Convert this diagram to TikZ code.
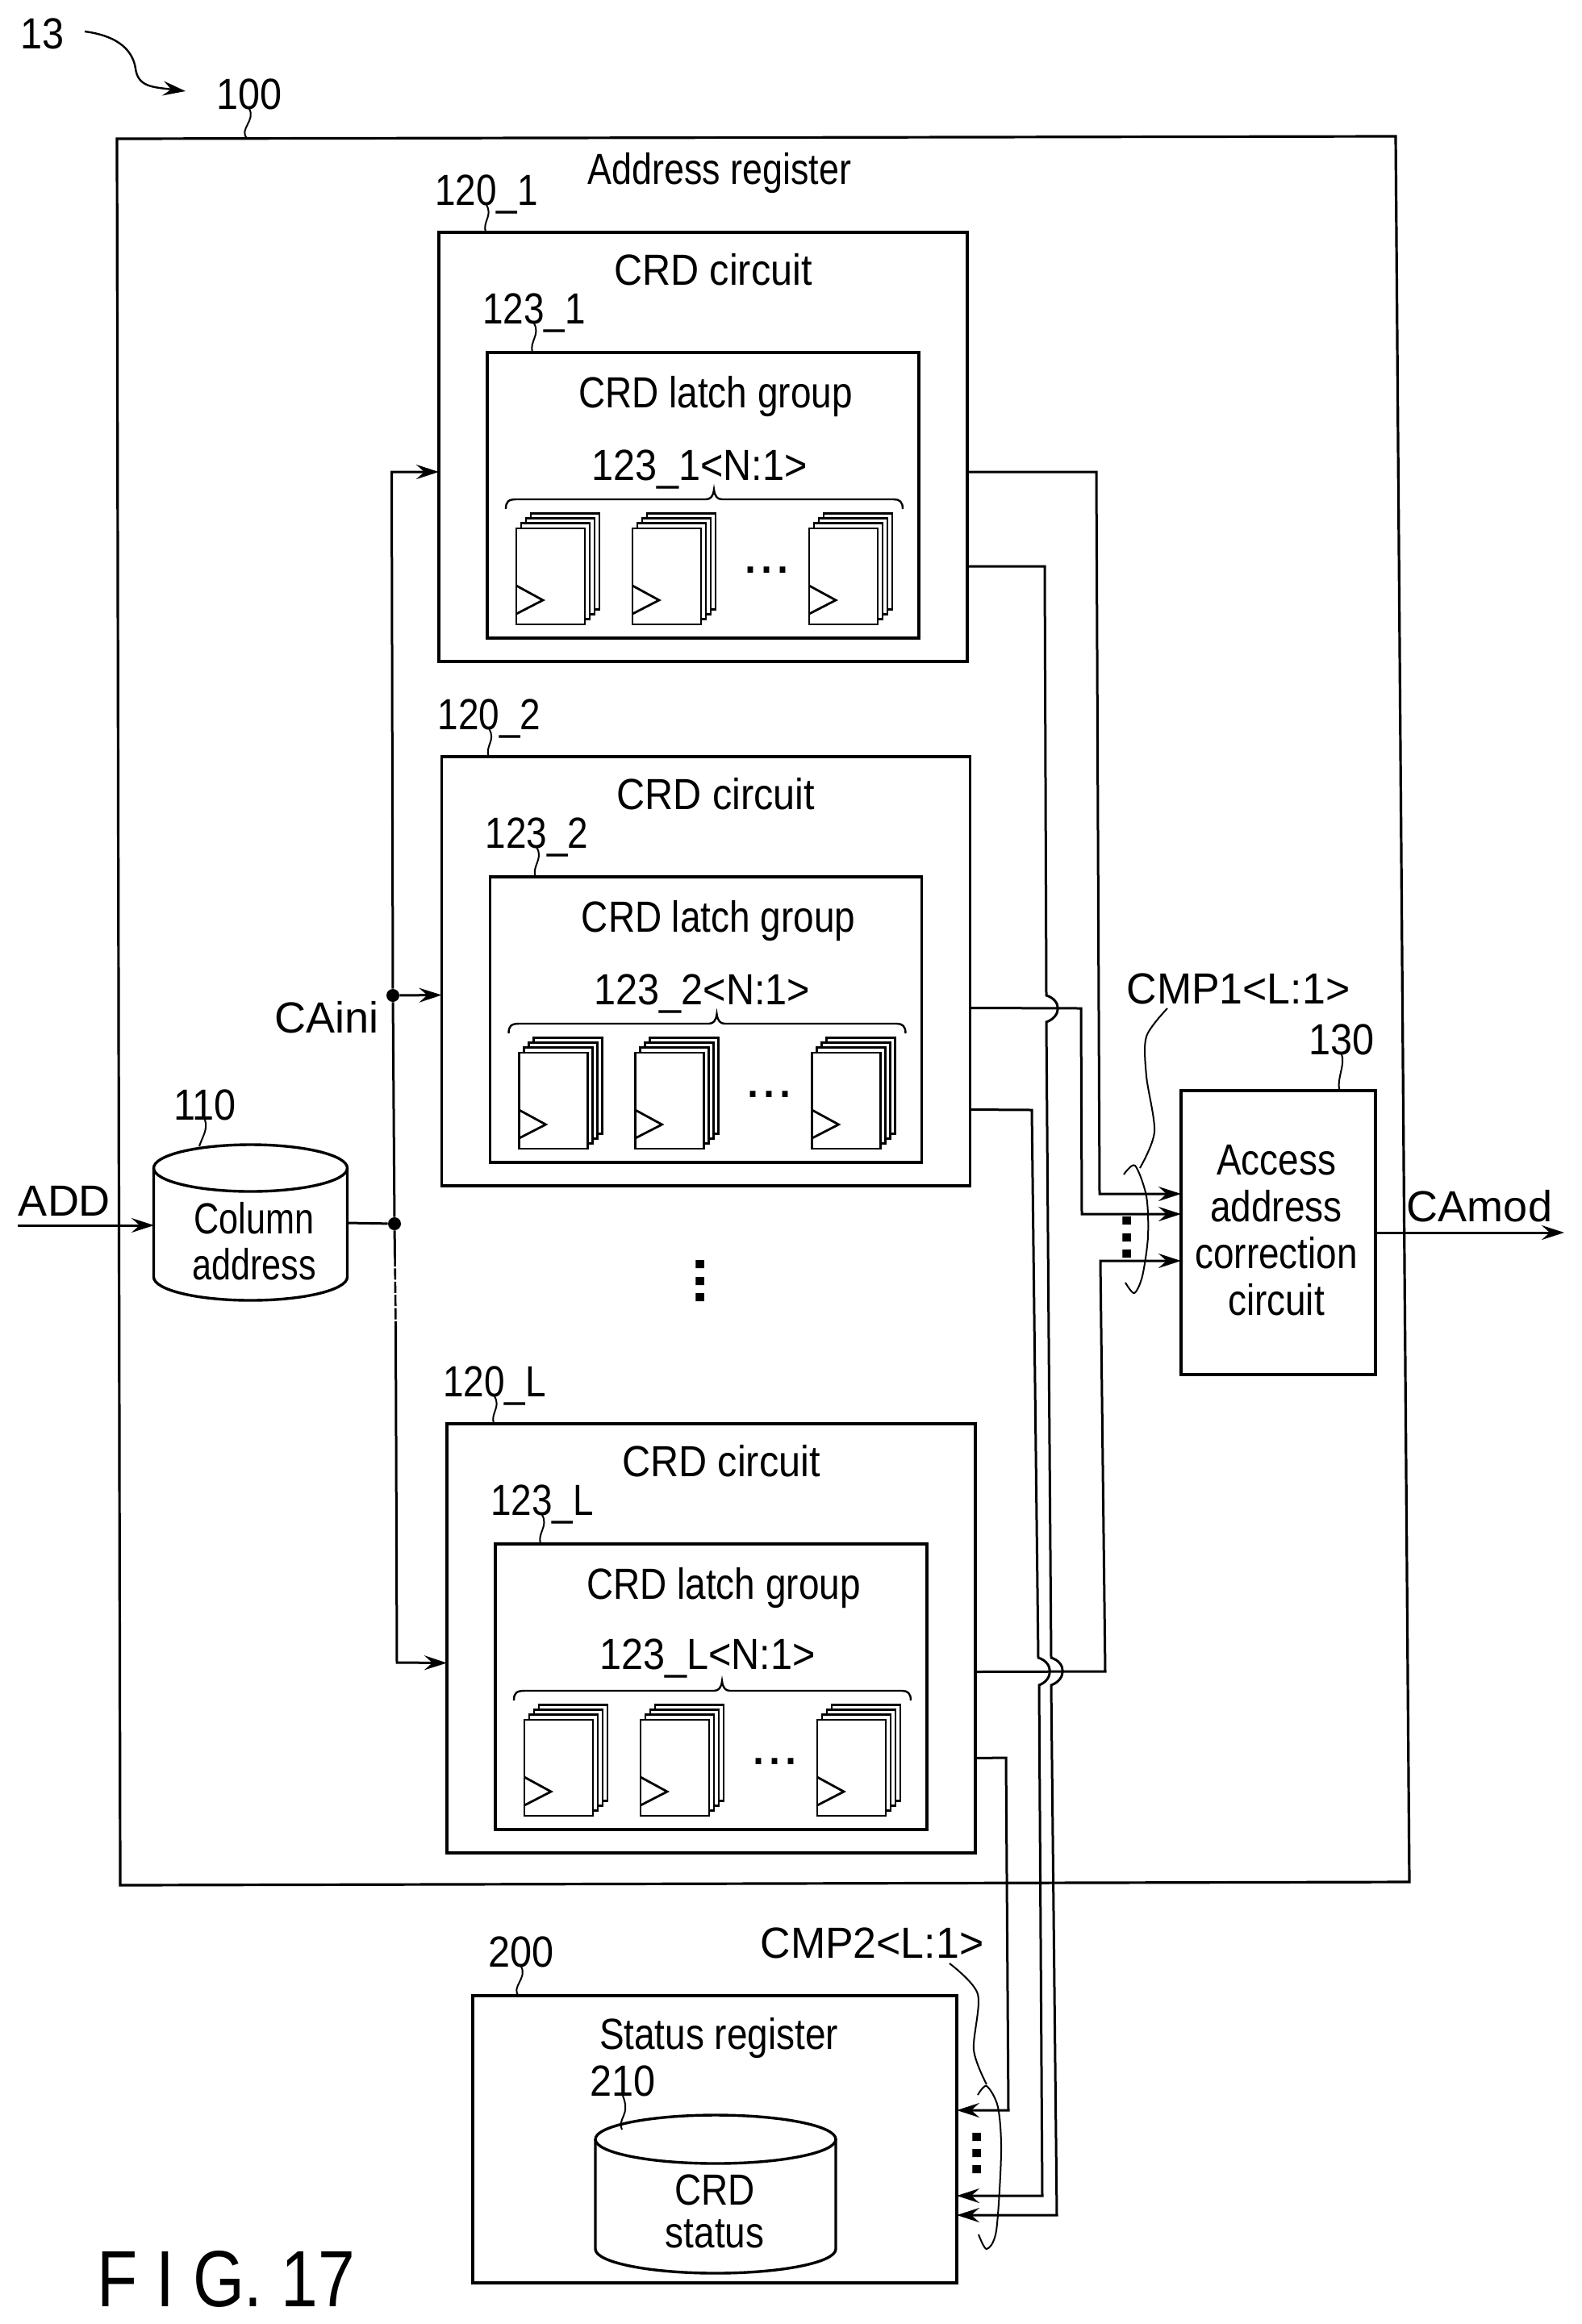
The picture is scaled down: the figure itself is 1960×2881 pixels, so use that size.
\documentclass[tikz,border=0pt]{standalone}
\usepackage{fontspec}
\setmainfont{Liberation Sans}
\newfontfamily\fEighty[FakeStretch=.80]{Liberation Sans}
\newfontfamily\fEightyFive[FakeStretch=.85]{Liberation Sans}
\newfontfamily\fEightyThree[FakeStretch=.83]{Liberation Sans}
\newfontfamily\fNinety[FakeStretch=.90]{Liberation Sans}
\newfontfamily\fNearly[FakeStretch=.96]{Liberation Sans}
\newfontfamily\fFull{Liberation Sans}
\usetikzlibrary{arrows.meta}
\tikzset{
  x=.5pt,y=-.5pt,
  blk/.style={draw,line width=1.7pt,inner sep=0pt,outer sep=0pt},
  ghost/.style={inner sep=0pt,outer sep=0pt},
  lb/.style={inner sep=0pt,anchor=base},
  wE/.style={lb,font=\fEighty\fontsize{27}{29}\selectfont},
  wF/.style={lb,font=\fEightyFive\fontsize{27}{29}\selectfont},
  wT/.style={lb,font=\fEightyThree\fontsize{27}{29}\selectfont},
  wN/.style={lb,font=\fNinety\fontsize{27}{29}\selectfont},
  wM/.style={lb,font=\fNearly\fontsize{27}{29}\selectfont},
  wA/.style={lb,font=\fFull\fontsize{27}{29}\selectfont},
  mlE/.style={inner sep=0pt,anchor=south,align=center},
  dotrow/.style={lb,font=\fFull\bfseries\fontsize{36}{36}\selectfont},
  dotthin/.style={lb,font=\fFull\fontsize{36}{36}\selectfont},
  conn/.style={line width=1.5pt},
  arr/.style={line width=1.5pt,-{Stealth[length=14pt,width=9pt,inset=5pt]}},
  leadr/.style={line width=1pt},
  cyl/.style={line width=1.7pt},
  lay/.style={line width=1.4pt,fill=white},
  jn/.style={circle,fill=black,inner sep=0pt,minimum size=8pt},
}
\newcommand{\boxnode}[5]{%
  \pgfmathsetmacro\bw{(#4-#2)*.5}\pgfmathsetmacro\bh{(#5-#3)*.5}%
  \node[blk,minimum width=\bw pt,minimum height=\bh pt] (#1) at ({(#2+#4)/2},{(#3+#5)/2}) {};}
\newcommand{\latchstack}[1]{%
  \foreach \s in {3,2,1,0}{\draw[lay] ({#1+6*\s},{655-6.3*\s}) rectangle +(85,119);}
  \draw[line width=1.4pt] (#1,726) -- (#1+33,744) -- (#1,761);}
\newcommand{\crdblock}[5]{% id, dx, dy, text suffix, baseline of bus label
  \begin{scope}[shift={(#2,#3)}]
    \boxnode{crd#1}{544}{288}{1199}{820}
    \boxnode{lat#1}{604}{437}{1139}{791}
    \node[wN] (tc#1) at (884,353) {CRD circuit};
    \node[wF] (tg#1) at (887,505) {CRD latch group};
    \node[wF] (la#1) at (603,254) {120\_#4};
    \node[wF] (lb#1) at (662,401) {123\_#4};
    \node[wN] (tn#1) at (867,#5) {123\_#4<N:1>};
    \draw[line width=1.2pt] (627,631) .. controls (627,622) and (630,619) .. (640,619) -- (875,619)
      .. controls (881,619) and (884,615) .. (885,607) .. controls (886,615) and (889,619) .. (895,619)
      -- (1108,619) .. controls (1115,619) and (1119,622) .. (1119,631);
    \latchstack{640}\latchstack{784}\latchstack{1003}
    \node[dotthin] (td#1) at (950,710) {...};
    \draw[leadr] (la#1.base) .. controls +(8,14) and +(-4,-14) .. ([xshift=-134.75pt]crd#1.north);
    \draw[leadr] (lb#1.base) .. controls +(8,14) and +(-4,-14) .. ([xshift=-105.75pt]lat#1.north);
  \end{scope}}
\begin{document}
\begin{tikzpicture}
\path[use as bounding box,fill=white] (0,0) rectangle (1960,2881);

% outer box
\coordinate (oa) at (145,172);\coordinate (ob) at (1730,169);
\coordinate (oc) at (1747,2333);\coordinate (od) at (149,2337);
\draw[line width=1.6pt,line join=miter] (oa) -- (ob) -- (oc) -- (od) -- cycle;
\node[wT] at (892,228) {Address register};

\node[wN] (l13) at (53,60) {13};
\node[wN] (l100) at (309,135) {100};
\coordinate (a13) at (230,113);
\draw[line width=1.2pt,-{Stealth[length=14pt,width=9pt,inset=5pt]}] (105,39) .. controls (150,45) and (165,65) .. (168,85) .. controls (171,108) and (190,108) .. (a13);
\draw[leadr] (l100.base) .. controls +(8,14) and +(-10,-10) .. (306,171);

\crdblock{A}{0}{0}{1}{595}
\crdblock{B}{3.5}{650}{2}{595}
\crdblock{C}{10}{1477}{L}{592}

% column address
\node[ghost,minimum width=119.5pt,minimum height=96pt] (c110) at (310.5,1516) {};
\draw[cyl] (310.5,1448) ellipse [x radius=120,y radius=29];
\draw[cyl] (190.5,1448) -- (190.5,1583) arc [start angle=180,end angle=0,x radius=120,y radius=29] -- (430.5,1448);
\node[mlE,font=\fEighty\fontsize{27}{28.75}\selectfont] (t110) at (315,1587.5) {Column\\address};
\node[wN] (l110) at (254,1388) {110};
\draw[leadr] (l110.base) .. controls +(4,12) and +(4,-12) .. (247,1421);
\node[wA] (lADD) at (80,1507) {ADD};
\coordinate (addin) at (22,1519);
\draw[arr] (addin) -- ([yshift=-1.5pt]c110.west);

% trunk
\node[jn] (j2) at (489,1517) {};
\node[jn] (j1) at (487,1234) {};
\node[wA] (lCA) at (405,1280) {CAini};
\coordinate (tr1) at (485.5,585);
\coordinate (d1) at (489.5,1556);\coordinate (d2) at (490.5,1642);\coordinate (tr3) at (492,2061);
\draw[conn] (c110.east) -- (j2);
\draw[arr] (j2) -- (j1) -- (tr1) -- ([yshift=-15.5pt]crdA.west);
\draw[arr] (j1) -- ([yshift=-14.75pt]crdB.west);
\draw[conn] (j2) -- (d1);
\draw[line width=1.3pt,dash pattern=on 7pt off 1.2pt] (d1) -- (d2);
\draw[arr] (d2) -- (tr3) -- ([yshift=-15.25pt]crdC.west);

% middle dots
\node[dotrow,rotate=90] (vd) at (873,1588) {...};

% access address correction circuit
\node[blk,minimum width=120.5pt,minimum height=176pt] (c130) at (1584.5,1528) {};
\node[mlE,font=\fEightyFive\fontsize{27}{29}\selectfont] (t130) at (1582,1631) {Access\\address\\correction\\circuit};
\node[wN] (l130) at (1663,1307) {130};
\draw[leadr] (l130.base) .. controls +(5,12) and +(-4,-14) .. ([xshift=38pt]c130.north);
\node[wM] (lCMP1) at (1535,1244) {CMP1<L:1>};
\node[wA] (lCAm) at (1834,1514) {CAmod};
\coordinate (cam) at (1939,1528);
\draw[arr] (c130.east) -- (cam);

\draw[leadr] plot[smooth] coordinates {(1447,1250) (1421,1285) (1421,1334) (1431,1403) (1413,1448)};
\draw[leadr] plot[smooth] coordinates {(1393,1456) (1407,1445) (1421,1483) (1423,1533) (1416,1582) (1406,1603) (1395,1590)};
\node[dotrow,rotate=90] (vd1) at (1402,1534) {...};

% status register
\boxnode{s200}{586}{2474}{1186}{2830}
\node[wF] (t200) at (891,2540) {Status register};
\node[wN] (l200) at (646,2438) {200};
\draw[leadr] (l200.base) .. controls +(8,14) and +(-10,-10) .. ([xshift=-121.5pt]s200.north);
\node[ghost,minimum width=149pt,minimum height=98pt] (c210) at (887,2720) {};
\draw[cyl] (887,2652) ellipse [x radius=149,y radius=30];
\draw[cyl] (738,2652) -- (738,2788) arc [start angle=180,end angle=0,x radius=149,y radius=30] -- (1036,2652);
\node[mlE,font=\fEightyFive\fontsize{27}{26.5}\selectfont] (t210) at (886,2787) {CRD\\status};
\node[wN] (l210) at (772,2598) {210};
\draw[leadr] (l210.base) .. controls +(10,25) and +(-6,-15) .. (771,2640);
\node[wM] (lCMP2) at (1081,2427) {CMP2<L:1>};
\draw[leadr] plot[smooth] coordinates {(1177,2434) (1212,2472) (1207,2541) (1223,2584)};
\draw[leadr] plot[smooth] coordinates {(1212,2597) (1223,2586) (1237,2612) (1241,2668) (1235,2765) (1223,2788) (1213,2770)};
\node[dotrow,rotate=90] (vd2) at (1216,2669) {...};

% CMP1 connectors
\coordinate (p1) at (1359,585);\coordinate (p2) at (1363,1480);
\draw[arr] ([yshift=-15.5pt]crdA.east) -- (p1) -- (p2) -- ([yshift=24pt]c130.west);
\coordinate (q1) at (1340,1250);\coordinate (q2) at (1341,1505);
\draw[arr] ([yshift=-22.75pt]crdB.east) -- (q1) -- (q2) -- ([yshift=11.5pt]c130.west);
\coordinate (r1) at (1370,2072);\coordinate (r2) at (1364,1563);
\draw[arr] ([yshift=-20.75pt]crdC.east) -- (r1) -- (r2) -- ([yshift=-17.5pt]c130.west);

% CMP2 connectors
\coordinate (u1) at (1295,702);
\coordinate (u5) at (1310,2746);
\draw[arr] ([yshift=-74pt]crdA.east) -- (u1) -- (1297,1234) .. controls (1316,1240) and (1316,1260) .. (1297,1267)
  -- (1303,2055) .. controls (1322,2061) and (1322,2082) .. (1303,2089) -- (u5) -- ([yshift=-47pt]s200.east);
\coordinate (v1) at (1279,1376);
\coordinate (v5) at (1292,2722);
\draw[arr] ([yshift=-85.75pt]crdB.east) -- (v1) -- (1287,2055) .. controls (1306,2061) and (1306,2082) .. (1288,2089) -- (v5) -- ([yshift=-35pt]s200.east);
\coordinate (w1) at (1247,2179);\coordinate (w2) at (1250,2616);
\draw[arr] ([yshift=-74.25pt]crdC.east) -- (w1) -- (w2) -- ([yshift=18pt]s200.east);

% figure label
\node[lb,anchor=base west,font=\fEightyThree\fontsize{49.5}{50}\selectfont] (fig) at (120,2859) {F I G. 17};
\end{tikzpicture}
\end{document}
